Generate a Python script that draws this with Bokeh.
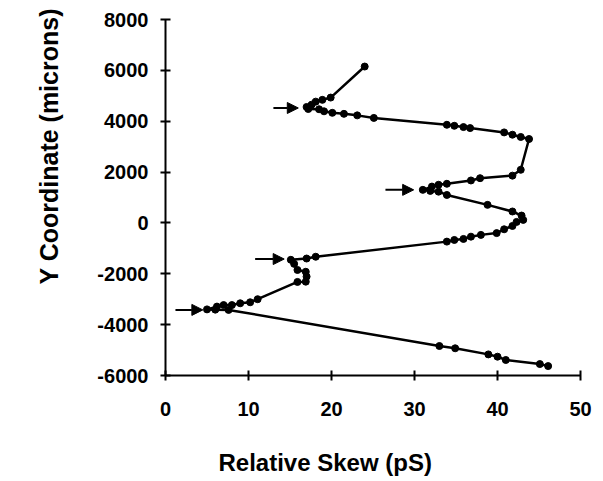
from bokeh.plotting import figure
from bokeh.models import Range1d, Title, Arrow, NormalHead, FixedTicker, ColumnDataSource
from bokeh.embed import file_html
from bokeh.resources import INLINE

# Relative skew (pS) vs Y coordinate (microns), in path order from top to bottom
skew = [24.0, 19.9, 18.9, 18.1, 17.6, 17.0, 17.2, 18.5, 19.1, 20.1, 21.5, 23.1, 25.1,
        33.9, 34.8, 35.9, 36.7, 40.8, 41.8, 42.8, 43.8,
        42.8, 41.8, 37.9, 36.8, 33.9, 32.9, 32.1, 31.0, 31.9, 32.9, 33.9,
        38.8, 41.8, 42.9, 43.1, 42.3, 41.8, 40.8, 39.9, 38.0, 36.8, 35.9, 34.8, 33.9,
        18.1, 17.0, 15.1, 15.5, 15.9, 16.9, 17.0, 16.9, 15.9,
        11.1, 10.2, 9.0, 8.0, 7.0, 6.2, 5.0, 6.0, 7.6,
        33.0, 34.9, 38.9, 40.0, 41.0, 45.1, 46.1]
ycoord = [6150, 4930, 4840, 4770, 4650, 4560, 4480, 4470, 4390, 4330, 4290, 4230, 4130,
          3860, 3820, 3770, 3730, 3560, 3470, 3380, 3300,
          2090, 1860, 1760, 1670, 1540, 1500, 1430, 1300, 1260, 1230, 1100,
          710, 450, 290, 120, 40, -120, -250, -400, -470, -540, -630, -670, -735,
          -1330, -1400, -1450, -1610, -1850, -1920, -2110, -2310, -2320,
          -3000, -3120, -3160, -3230, -3230, -3290, -3400, -3410, -3420,
          -4840, -4930, -5170, -5260, -5390, -5550, -5630]

# arrows marking the skew minima
arrow_y = [4520, 1300, -1420, -3420]
arrow_x_tail = [13.0, 26.5, 10.8, 1.2]
arrow_x_tip = [16.0, 29.9, 14.3, 4.5]

x_ticks = [0, 10, 20, 30, 40, 50]
x_tick_labels = ["0", "10", "20", "30", "40", "50"]
y_ticks = [-6000, -4000, -2000, 0, 2000, 4000, 6000, 8000]
y_tick_labels = ["-6000", "-4000", "-2000", "0", "2000", "4000", "6000", "8000"]

x_title = "Relative Skew (pS)"
y_title = "Y Coordinate (microns)"

FONT = "Liberation Sans"

p = figure(output_backend="svg", toolbar_location=None,
           frame_width=415, frame_height=356,
           min_border_left=165, min_border_right=15,
           min_border_top=19, min_border_bottom=0,
           x_range=Range1d(0, 50), y_range=Range1d(-6000, 8000))
p.outline_line_color = None
p.xgrid.visible = False
p.ygrid.visible = False
p.background_fill_color = "white"
p.border_fill_color = "white"

for ax, ticks, labels in ((p.xaxis[0], x_ticks, x_tick_labels), (p.yaxis[0], y_ticks, y_tick_labels)):
    ax.ticker = FixedTicker(ticks=ticks)
    ax.major_label_overrides = {t: l for t, l in zip(ticks, labels)}
    ax.axis_line_width = 2
    ax.axis_line_color = "black"
    ax.major_tick_line_width = 2
    ax.major_tick_line_color = "black"
    ax.major_tick_in = 5
    ax.major_tick_out = 5
    ax.minor_tick_line_color = None
    ax.major_label_text_font = FONT
    ax.major_label_text_font_style = "bold"
    ax.major_label_text_font_size = "20px"
    ax.major_label_text_color = "black"

p.xaxis.major_label_standoff = 21
p.yaxis.major_label_standoff = 12

src = ColumnDataSource(dict(x=skew, y=ycoord))
p.line("x", "y", source=src, line_color="black", line_width=2.5)
p.scatter("x", "y", source=src, size=7, fill_color="black", line_color="black")

for yy, xt, xh in zip(arrow_y, arrow_x_tail, arrow_x_tip):
    p.add_layout(Arrow(end=NormalHead(size=11, fill_color="black", line_color="black"),
                       x_start=xt, y_start=yy, x_end=xh, y_end=yy,
                       line_color="black", line_width=2))

p.add_layout(Title(text=x_title, text_font=FONT, text_font_style="bold",
                   text_font_size="24px", align="left", offset=53, standoff=56,
                   text_color="black"), "below")
p.add_layout(Title(text=y_title, text_font=FONT, text_font_style="bold",
                   text_font_size="25px", align="left", offset=91, standoff=64,
                   text_color="black"), "left")

open("out.html", "w").write(file_html(p, INLINE))
